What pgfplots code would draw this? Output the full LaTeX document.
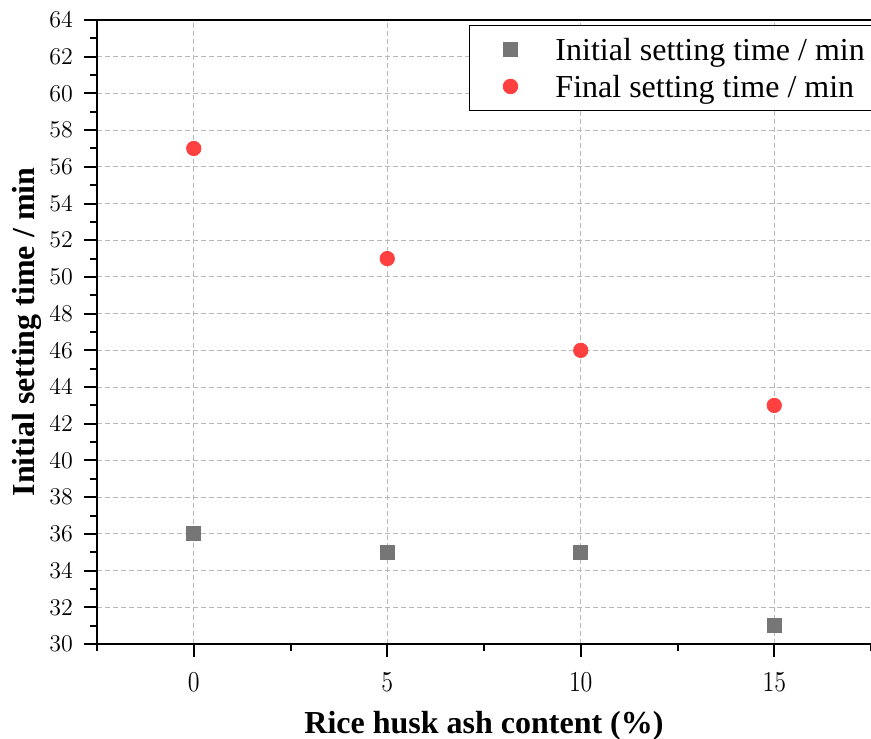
\documentclass[border=0pt]{standalone}
\usepackage{pgfplots}
\pgfplotsset{compat=1.18}
\usepackage{fontspec}
\setmainfont{Liberation Serif}
\definecolor{sqgray}{RGB}{118,118,118}
\definecolor{dotred}{RGB}{255,64,64}
\begin{document}
\begin{tikzpicture}
\begin{axis}[
  at={(0,0)}, anchor=south west,
  width=387pt, height=312pt, scale only axis,
  xmin=-2.5, xmax=17.5, ymin=30, ymax=64,
  axis x line=box, axis y line=left,
  axis line style={-, line width=1pt, black},
  xtick pos=bottom, ytick pos=left,
  tick align=outside,
  xtick={0,5,10,15}, minor xtick={-2.5,2.5,7.5,12.5,17.5},
  ytick={30,32,...,64}, minor ytick={31,33,...,63},
  major tick length=6.5pt, minor tick length=3.5pt,
  every tick/.style={black, line width=1pt},
  xmajorgrids, ymajorgrids,
  major grid style={gray!55, line width=0.5pt, dash pattern=on 2.5pt off 1.5pt},
  yticklabel style={font=\fontsize{12}{14}\selectfont},
  xticklabel style={font=\fontsize{13}{15}\selectfont, yscale=1.2},
  xticklabel shift=3.5pt, yticklabel shift=2pt,
  xlabel={Rice husk ash content (\%)},
  ylabel={Initial setting time / min},
  label style={font=\bfseries\fontsize{16}{19}\selectfont},
  xlabel style={at={([yshift=-44.5pt]rel axis cs:0.5,0)}, anchor=base},
  ylabel style={at={([xshift=-31pt]rel axis cs:0,0.5)}, anchor=base},
  legend style={at={(rel axis cs:0.4806,0.992)}, anchor=north west, draw=black, line width=0.5pt,
    font=\fontsize{16}{19}\selectfont, legend cell align=left,
    inner xsep=10pt, inner ysep=6.5pt, row sep=7.5pt, column sep=0pt,
    nodes={inner sep=0pt, text height=11pt, text depth=0pt}},
  legend image code/.code={\path[draw=none, fill=none] (0pt,-3pt) rectangle (33pt,3pt);
    \draw[mark repeat=2,mark phase=2,#1] plot coordinates {(0pt,0pt)(10.5pt,0pt)(21pt,0pt)};},
]
\addplot[only marks, mark=square*, mark size=3.5pt, color=sqgray] coordinates {(0,36) (5,35) (10,35) (15,31)};
\addlegendentry{Initial setting time / min}
\addplot[only marks, mark=*, mark size=3.6pt, color=dotred] coordinates {(0,57) (5,51) (10,46) (15,43)};
\addlegendentry{Final setting time / min}
\end{axis}
\pgfresetboundingbox
\path (-48.5pt,-47pt) rectangle (387pt,322pt);
\end{tikzpicture}
\end{document}
